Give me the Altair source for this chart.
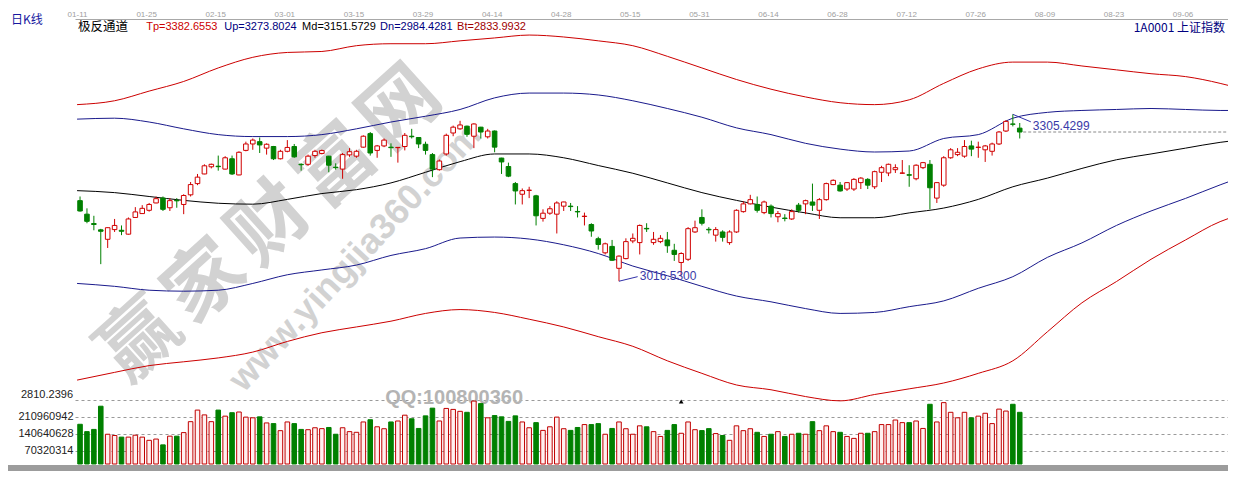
import altair as alt
import pandas as pd

# ---------------- data ----------------
DATE_LABELS = ["01-11", "01-25", "02-15", "03-01", "03-15", "03-29", "04-14", "04-28",
               "05-15", "05-31", "06-14", "06-28", "07-12", "07-26", "08-09", "08-23", "09-06"]

OPEN = [3156.0, 3132.6, 3116.4, 3105.5, 3089.1, 3105.9, 3104.7, 3098.0, 3126.9, 3133.6,
        3139.3, 3152.0, 3160.4, 3143.7, 3156.5, 3149.4, 3166.1, 3185.5, 3202.2, 3214.6,
        3215.6, 3210.6, 3228.5, 3200.5, 3243.0, 3254.1, 3258.1, 3246.9, 3249.7, 3228.5,
        3241.4, 3249.7, 3218.9, 3218.9, 3234.0, 3237.7, 3233.0, 3213.9, 3210.6, 3235.2,
        3233.0, 3248.6, 3272.0, 3243.0, 3250.7, 3248.6, 3247.7, 3249.7, 3267.5, 3265.3,
        3253.6, 3235.7, 3209.6, 3236.8, 3273.1, 3280.3, 3284.9, 3267.5, 3283.2, 3266.5,
        3276.5, 3229.7, 3215.1, 3185.5, 3167.1, 3173.8, 3164.4, 3125.3, 3134.3, 3132.6,
        3146.5, 3146.5, 3137.3, 3128.6, 3114.7, 3090.1, 3065.7, 3076.8, 3038.9, 3055.7,
        3086.3, 3083.4, 3108.0, 3083.4, 3085.1, 3088.0, 3070.1, 3049.0, 3054.5, 3101.8,
        3126.9, 3106.4, 3096.3, 3101.8, 3083.4, 3101.8, 3137.0, 3150.4, 3149.4, 3135.3,
        3146.5, 3128.1, 3125.9, 3124.3, 3148.2, 3150.4, 3153.7, 3139.3, 3157.7, 3183.8,
        3182.8, 3176.1, 3176.1, 3187.2, 3192.8, 3180.0, 3205.1, 3203.9, 3209.6, 3203.4,
        3200.9, 3193.9, 3213.1, 3218.9, 3160.4, 3182.8, 3230.2, 3235.7, 3233.0, 3250.7,
        3248.1, 3244.0, 3241.4, 3254.1, 3276.5, 3288.7, 3281.5]

HIGH = [3163.2, 3142.7, 3129.8, 3107.2, 3109.7, 3124.3, 3113.1, 3126.9, 3144.8, 3148.2,
        3152.0, 3163.2, 3163.2, 3160.4, 3160.4, 3167.1, 3188.3, 3202.2, 3218.9, 3220.1,
        3234.0, 3233.0, 3234.0, 3241.4, 3258.1, 3263.6, 3265.3, 3255.2, 3250.7, 3244.0,
        3260.8, 3254.1, 3220.6, 3235.7, 3244.0, 3244.4, 3233.5, 3220.6, 3238.5, 3246.9,
        3244.0, 3269.1, 3274.8, 3252.4, 3263.6, 3255.2, 3248.6, 3273.1, 3280.3, 3265.3,
        3258.1, 3238.5, 3227.3, 3272.0, 3285.9, 3294.2, 3285.9, 3289.9, 3283.7, 3280.3,
        3277.5, 3230.2, 3221.8, 3188.3, 3177.1, 3180.0, 3166.1, 3141.0, 3146.5, 3154.9,
        3154.1, 3152.0, 3146.5, 3135.3, 3116.9, 3093.5, 3083.4, 3088.0, 3061.2, 3090.8,
        3099.2, 3114.7, 3116.9, 3101.8, 3096.3, 3101.8, 3081.3, 3066.7, 3110.2, 3121.4,
        3141.0, 3110.2, 3110.2, 3104.7, 3104.7, 3141.0, 3154.9, 3166.1, 3163.2, 3156.0,
        3149.4, 3138.1, 3132.6, 3141.0, 3152.0, 3157.7, 3185.5, 3160.4, 3187.2, 3192.8,
        3188.3, 3188.3, 3195.0, 3196.7, 3195.0, 3207.9, 3216.3, 3220.1, 3218.9, 3226.3,
        3217.3, 3218.9, 3223.0, 3226.3, 3188.3, 3233.0, 3246.9, 3246.9, 3260.8, 3259.8,
        3258.1, 3252.4, 3256.4, 3276.5, 3295.4, 3305.43, 3290.4]

LOW = [3137.0, 3116.9, 3104.7, 3046.1, 3074.1, 3101.8, 3096.3, 3097.2, 3126.4, 3133.1,
       3137.0, 3151.5, 3138.1, 3138.1, 3143.7, 3132.6, 3163.2, 3182.8, 3201.7, 3211.8,
       3207.9, 3210.1, 3200.5, 3200.0, 3241.4, 3244.0, 3238.5, 3235.7, 3226.3, 3227.3,
       3239.7, 3230.2, 3207.9, 3216.3, 3230.2, 3236.0, 3205.1, 3209.6, 3193.9, 3231.8,
       3230.2, 3247.7, 3234.0, 3230.2, 3248.6, 3231.8, 3221.8, 3243.0, 3263.6, 3246.9,
       3235.7, 3196.7, 3207.9, 3234.0, 3267.5, 3278.7, 3266.5, 3246.9, 3263.6, 3263.6,
       3239.7, 3202.2, 3196.7, 3149.4, 3149.4, 3160.4, 3113.1, 3119.7, 3131.5, 3099.2,
       3138.1, 3138.1, 3126.9, 3113.1, 3093.5, 3071.2, 3062.9, 3051.7, 3016.53, 3054.5,
       3082.4, 3062.9, 3101.8, 3079.6, 3082.4, 3065.7, 3051.7, 3026.6, 3051.7, 3100.2,
       3113.1, 3099.2, 3085.1, 3085.1, 3079.6, 3100.2, 3135.3, 3149.4, 3135.3, 3132.6,
       3126.9, 3118.6, 3120.2, 3122.6, 3135.3, 3132.6, 3138.1, 3124.3, 3156.0, 3182.8,
       3171.6, 3172.8, 3172.8, 3176.1, 3176.1, 3176.1, 3188.3, 3198.4, 3203.9, 3202.2,
       3180.0, 3191.2, 3210.6, 3141.0, 3152.0, 3180.0, 3228.5, 3233.0, 3230.2, 3233.0,
       3230.2, 3223.0, 3234.0, 3252.4, 3274.8, 3284.5, 3263.6]

CLOSE = [3138.1, 3120.2, 3114.7, 3103.0, 3109.2, 3113.1, 3103.0, 3124.3, 3136.5, 3142.7,
         3149.4, 3159.4, 3141.0, 3156.0, 3155.7, 3164.9, 3183.8, 3196.7, 3216.3, 3218.9,
         3214.8, 3230.2, 3202.2, 3239.7, 3254.1, 3260.8, 3252.4, 3253.6, 3228.5, 3241.4,
         3248.1, 3231.8, 3218.1, 3233.0, 3241.4, 3242.7, 3217.3, 3213.1, 3235.7, 3240.7,
         3241.4, 3267.5, 3238.5, 3250.7, 3260.8, 3247.7, 3248.2, 3269.1, 3266.6, 3254.1,
         3243.0, 3210.6, 3224.6, 3269.1, 3283.2, 3287.0, 3270.8, 3288.7, 3274.8, 3276.5,
         3248.6, 3223.0, 3198.4, 3172.8, 3173.3, 3174.1, 3129.8, 3134.3, 3142.0, 3152.0,
         3153.7, 3145.7, 3136.5, 3129.1, 3103.5, 3080.1, 3081.3, 3052.8, 3060.0, 3085.1,
         3090.8, 3113.1, 3107.2, 3089.1, 3090.8, 3077.9, 3062.9, 3064.5, 3107.5, 3109.2,
         3116.9, 3105.5, 3105.9, 3092.5, 3101.8, 3139.3, 3150.4, 3157.7, 3139.3, 3153.7,
         3133.6, 3133.6, 3125.1, 3137.0, 3139.3, 3156.0, 3148.2, 3157.7, 3185.5, 3191.2,
         3172.8, 3187.2, 3192.8, 3195.0, 3182.8, 3206.2, 3213.1, 3218.9, 3213.1, 3203.9,
         3200.0, 3217.3, 3221.8, 3178.3, 3187.2, 3230.2, 3244.0, 3239.7, 3249.7, 3245.2,
         3248.6, 3250.7, 3254.1, 3274.8, 3293.2, 3288.2, 3274.8]

# volume, millions
VOL_M = [180.6, 150.2, 159.4, 255.3, 139.4, 134.2, 127.5, 127.5, 135.4, 127.5,
         114.3, 119.5, 95.5, 131.5, 131.5, 146.2, 191.4, 239.3, 219.4, 191.4,
         239.3, 214.2, 228.5, 231.3, 210.2, 207.4, 211.4, 186.2, 183.4, 154.2,
         190.2, 183.4, 159.4, 158.2, 166.2, 162.6, 167.4, 139.4, 166.2, 150.2,
         147.4, 190.2, 199.4, 170.2, 162.2, 190.2, 194.2, 218.2, 203.4, 163.4,
         215.4, 247.3, 194.2, 246.1, 242.1, 234.1, 230.1, 276.5, 266.1, 207.4,
         216.6, 211.4, 192.6, 215.4, 190.2, 166.2, 187.4, 155.4, 170.2, 210.2,
         162.2, 155.4, 167.4, 179.4, 179.4, 183.4, 139.4, 163.4, 190.2, 162.2,
         139.4, 174.2, 170.2, 150.2, 130.3, 155.4, 179.4, 143.4, 190.2, 158.2,
         154.6, 162.6, 142.2, 134.2, 114.3, 174.2, 154.2, 162.2, 147.4, 130.3,
         139.4, 150.2, 130.3, 139.4, 143.4, 139.4, 191.4, 154.2, 174.2, 150.2,
         147.4, 130.3, 122.3, 143.4, 143.4, 150.2, 179.4, 179.4, 198.2, 187.4,
         187.4, 194.2, 163.4, 263.3, 190.2, 270.1, 230.1, 207.4, 230.1, 207.4,
         214.2, 226.1, 183.4, 243.3, 235.3, 263.3, 230.1]

# channel lines (bar index, price)
LINE_IDX = [-0.43, 5, 10, 15, 20, 25, 30, 35, 40, 45, 50, 55, 60, 65, 70, 75, 80, 85, 90,
            95, 100, 105, 110, 115, 120, 125, 130, 135, 140, 145, 150, 155, 160, 165, 166.14]
TP = [3322.2, 3328.9, 3345.6, 3362.3, 3385.7, 3404.1, 3412.5, 3414.2, 3424.2, 3427.6,
      3427.6, 3432.6, 3437.6, 3442.6, 3439.3, 3432.6, 3424.2, 3405.8, 3385.7, 3365.7,
      3348.9, 3335.5, 3325.5, 3322.2, 3330.5, 3359.0, 3384.1, 3395.8, 3395.8, 3389.1,
      3382.4, 3375.7, 3370.7, 3359.0, 3355.6]
UP = [3297.1, 3298.7, 3292.1, 3280.3, 3270.3, 3266.9, 3266.9, 3270.3, 3280.3, 3292.1,
      3302.1, 3313.8, 3333.9, 3342.2, 3342.2, 3338.9, 3328.9, 3315.5, 3300.4, 3282.0,
      3270.3, 3255.2, 3245.2, 3240.2, 3241.9, 3263.6, 3270.3, 3298.7, 3308.8, 3312.1,
      3313.8, 3315.5, 3313.8, 3312.1, 3312.1]
MD = [3173.3, 3169.9, 3163.2, 3156.5, 3151.5, 3149.9, 3158.2, 3168.3, 3175.0, 3186.7,
      3205.1, 3223.5, 3236.8, 3236.8, 3230.2, 3216.8, 3203.4, 3186.7, 3169.9, 3156.5,
      3144.8, 3134.8, 3126.4, 3126.4, 3134.8, 3143.2, 3158.2, 3180.0, 3195.0, 3211.8,
      3226.8, 3236.8, 3246.9, 3256.9, 3258.6]
DN = [3012.7, 3007.7, 3001.0, 2999.3, 3001.0, 3012.7, 3027.7, 3036.1, 3044.5, 3061.2,
      3072.9, 3091.3, 3093.0, 3089.6, 3079.6, 3064.5, 3042.8, 3026.1, 3007.7, 2990.9,
      2980.9, 2969.2, 2960.8, 2962.5, 2972.5, 2982.5, 3004.3, 3024.4, 3057.8, 3082.9,
      3113.1, 3138.1, 3159.9, 3183.3, 3188.3]
BT = [2845.4, 2858.8, 2870.5, 2877.1, 2883.8, 2893.9, 2912.3, 2927.4, 2937.4, 2947.4,
      2960.8, 2967.5, 2962.5, 2950.8, 2937.4, 2920.6, 2903.9, 2878.8, 2857.1, 2837.0,
      2828.7, 2816.9, 2809.5, 2820.5, 2830.3, 2840.4, 2857.1, 2878.8, 2929.0, 2979.2,
      3016.0, 3054.5, 3088.0, 3119.7, 3124.8]

CHANNEL_NAMES = ["Tp", "Up", "Md", "Dn", "Bt"]
CHANNEL_LAST = ["3382.6553", "3273.8024", "3151.5729", "2984.4281", "2833.9932"]
VOL_TICKS = [70320314, 140640628, 210960942, 281281256]
PRICE_FLOOR_LABEL = 2810.2396
HIGH_LABEL = "3305.4299"
LOW_LABEL = "3016.5300"

for arr in (OPEN, HIGH, LOW, CLOSE, VOL_M):
    assert len(arr) == 137, len(arr)
for arr in (TP, UP, MD, DN, BT):
    assert len(arr) == len(LINE_IDX)

# ---------------- layout ----------------
W, H = 1153, 445
RED = "#d00000"
GREEN = "#008000"
X_SCALE = alt.Scale(domain=[-0.73, 166.14], nice=False, zero=False)
P_SCALE = alt.Scale(domain=[2700.2, 3470.4], nice=False, zero=False)
V_SCALE = alt.Scale(domain=[16.4, 1856.0], nice=False, zero=False)

label_js = "[" + ",".join("'%s'" % d for d in DATE_LABELS) + "]"
X_AXIS = alt.Axis(orient="top", values=list(range(0, 161, 10)),
                  labelExpr=label_js + "[round(datum.value/10)]",
                  ticks=False, grid=False, domainColor="#a8a8a8", domainWidth=1,
                  labelColor="#a0a0a0", labelFont="Liberation Sans", labelFontSize=8,
                  labelPadding=1, labelOffset=-3, labelFlush=False, labelOverlap=False,
                  labelBound=False, title=None)
V_AXIS = alt.Axis(orient="left", values=[t / 1e6 for t in VOL_TICKS],
                  labelExpr="datum.value > 250 ? '' : format(round(datum.value*1000000), 'd')",
                  grid=True, gridDash=[3, 3], gridColor="#9a9a9a", gridWidth=1,
                  ticks=False, domain=False, labelFont="Liberation Sans", labelFontSize=11,
                  labelColor="#222222", labelPadding=2, title=None)


def X(field):
    return alt.X(field + ":Q", scale=X_SCALE, axis=X_AXIS)


def PY(field):
    return alt.Y(field + ":Q", scale=P_SCALE, axis=None)


n = len(OPEN)
df = pd.DataFrame({"i": list(range(n)), "o": OPEN, "h": HIGH, "l": LOW, "c": CLOSE, "v": VOL_M})
df["xl"] = df["i"] - 0.33
df["xr"] = df["i"] + 0.33
UPTEST = "datum.c >= datum.o"

rows = []
for name, arr in zip(CHANNEL_NAMES, (TP, UP, MD, DN, BT)):
    for k, p in zip(LINE_IDX, arr):
        rows.append({"i": k, "p": p, "s": name})
lines_df = pd.DataFrame(rows)

# ---------------- price group ----------------
lines = alt.Chart(lines_df).mark_line(strokeWidth=1, interpolate="monotone").encode(
    x=X("i"), y=PY("p"),
    color=alt.Color("s:N", scale=alt.Scale(domain=CHANNEL_NAMES,
                                           range=["#cc0000", "#1a1a8c", "#000000", "#1a1a8c", "#cc0000"]),
                    legend=None))

wicks = alt.Chart(df).mark_rule(strokeWidth=1).encode(
    x=X("i"), y=PY("l"), y2="h:Q",
    color=alt.condition(UPTEST, alt.value(RED), alt.value(GREEN)))

bodies = alt.Chart(df).mark_rect(strokeWidth=1).encode(
    x=X("xl"), x2="xr:Q", y=PY("o"), y2="c:Q",
    fill=alt.condition(UPTEST, alt.value("white"), alt.value(GREEN)),
    stroke=alt.condition(UPTEST, alt.value(RED), alt.value(GREEN)))

last_close = CLOSE[-1]
close_line = alt.Chart(pd.DataFrame({"i": [n - 0.5], "i2": [166.14], "p": [last_close]})).mark_rule(
    strokeDash=[3, 2], color="#8a8a8a", strokeWidth=1).encode(x=X("i"), x2="i2:Q", y=PY("p"))

hi_i = HIGH.index(max(HIGH))
lo_i = LOW.index(min(LOW))
ann_seg = pd.DataFrame({
    "i": [hi_i, lo_i], "i2": [hi_i + 2.6, lo_i + 2.7],
    "p": [max(HIGH), min(LOW)], "p2": [max(HIGH) - 13.0, min(LOW) + 7.9]})
ann_lines = alt.Chart(ann_seg).mark_rule(color="#3030a8", strokeWidth=1).encode(
    x=X("i"), x2="i2:Q", y=PY("p"), y2="p2:Q")

ann_txt = pd.DataFrame({"i": [hi_i + 2.9, lo_i + 3.0],
                        "p": [max(HIGH) - 20.0, min(LOW) + 9.5],
                        "t": [HIGH_LABEL, LOW_LABEL]})
ann_texts = alt.Chart(ann_txt).mark_text(align="left", baseline="middle", font="Liberation Sans",
                                         fontSize=12, color="#3a3aa8").encode(
    x=X("i"), y=PY("p"), text="t:N")

floor_lbl = alt.Chart(pd.DataFrame({"p": [PRICE_FLOOR_LABEL], "t": ["%.4f" % PRICE_FLOOR_LABEL]})).mark_text(
    align="right", baseline="middle", font="Liberation Sans", fontSize=11, color="#222222", dy=-5).encode(
    x=alt.value(-2), y=PY("p"), text="t:N")

price_group = alt.layer(lines, wicks, bodies, close_line, ann_lines, ann_texts, floor_lbl)

# ---------------- volume group ----------------
vbars = alt.Chart(df).mark_rect(strokeWidth=1).encode(
    x=X("xl"), x2="xr:Q",
    y=alt.Y("v:Q", scale=V_SCALE, axis=V_AXIS), y2=alt.value(H),
    fill=alt.condition(UPTEST, alt.value("#fff0f0"), alt.value(GREEN)),
    stroke=alt.condition(UPTEST, alt.value("#c00000"), alt.value(GREEN)))

marker = alt.Chart(pd.DataFrame({"i": [87], "v": [275.0]})).mark_point(
    shape="triangle-up", filled=True, size=22, color="black", opacity=1).encode(
    x=X("i"), y=alt.Y("v:Q", scale=V_SCALE, axis=V_AXIS))

vol_group = alt.layer(vbars, marker)


# ---------------- texts ----------------
def txt(s, x, y, color, size, font="Liberation Sans", weight="normal", align="left", angle=0):
    return alt.Chart(pd.DataFrame({"t": [s]})).mark_text(
        align=align, baseline="middle", font=font, fontSize=size, fontWeight=weight,
        color=color, angle=angle).encode(x=alt.value(x), y=alt.value(y), text="t:N")


WM = "#d2d2d2"
watermark = [txt(ch, 66.2 + 65.1 * k, 322.5 - 58.0 * k, WM, 78, font="Noto Sans CJK SC",
                 weight="bold", align="center", angle=318) for k, ch in enumerate("赢家财富网")]
watermark.append(txt("www.yingjia360.com", 280.4, 238.4, WM, 36, weight="bold", align="center", angle=313))
watermark.append(txt("QQ:100800360", 379.1, 378.5, "#b4b4b4", 20, weight="bold", align="center"))

header_colors = ["#cc0000", "#000080", "#000000", "#000080", "#a00000"]
header_x = [71.2, 149.2, 227.1, 305.1, 382.1]
headers = [txt("日K线", -64, 0.8, "#1818a0", 12, font="Noto Sans CJK SC"),
           txt("极反通道", 3, 8.3, "#000000", 12.5, font="Noto Sans CJK SC"),
           txt("1A0001  上证指数", W - 3, 9.0, "#000080", 12, font="Noto Sans CJK SC", align="right")]
for name, val, col, hx in zip(CHANNEL_NAMES, CHANNEL_LAST, header_colors, header_x):
    headers.append(txt("%s=%s" % (name, val), hx, 8.3, col, 11))

bottom_bar = alt.Chart(pd.DataFrame({"a": [0]})).mark_rect(color="#9c9c9c").encode(
    x=alt.value(-67), x2=alt.value(W), y=alt.value(H + 1), y2=alt.value(H + 7))

chart = alt.layer(*watermark, vol_group, price_group, *headers, bottom_bar).resolve_scale(
    y="independent").properties(
    width=W, height=H, background="white",
    padding={"left": 67, "top": 11, "right": 0, "bottom": 7},
    autosize=alt.AutoSizeParams(type="none")).configure_view(stroke=None)

chart.save("out.html", embed_options={"renderer": "svg", "actions": False})
